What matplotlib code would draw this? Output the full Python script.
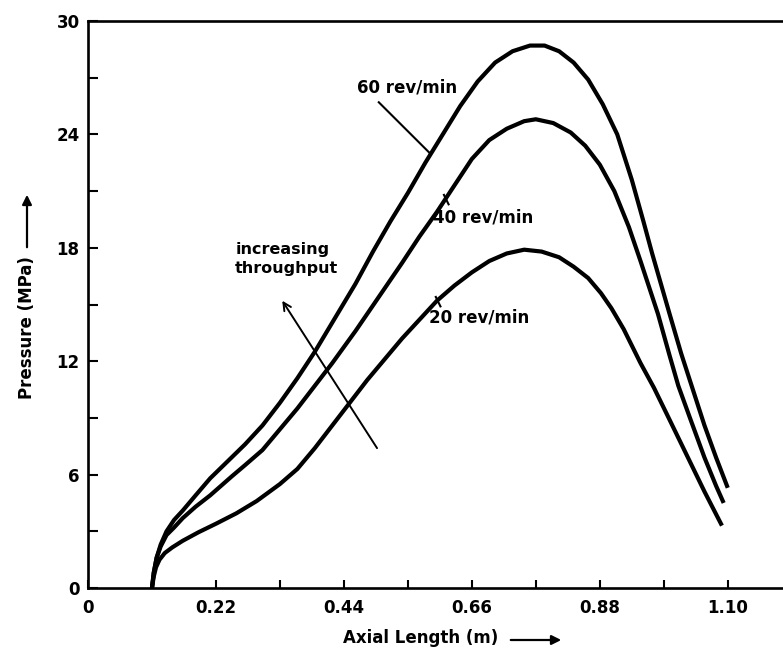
import matplotlib
matplotlib.use('Agg')
import matplotlib.pyplot as plt
from matplotlib.ticker import MultipleLocator, FixedLocator

plt.rcParams['font.family'] = ['DejaVu Sans']

# 60 rev/min
x60 = [0.110, 0.113, 0.118, 0.125, 0.135, 0.148, 0.163, 0.185, 0.21, 0.24, 0.27, 0.30,
       0.33, 0.36, 0.39, 0.425, 0.46, 0.49, 0.52, 0.55, 0.58, 0.61, 0.64, 0.67, 0.70,
       0.73, 0.76, 0.785, 0.81, 0.835, 0.86, 0.885, 0.91, 0.935, 0.955, 0.97, 0.985,
       1.00, 1.02, 1.04, 1.06, 1.08, 1.10]
p60 = [0.0, 0.8, 1.6, 2.3, 3.0, 3.6, 4.1, 4.9, 5.8, 6.7, 7.6, 8.6,
       9.8, 11.1, 12.5, 14.3, 16.1, 17.8, 19.4, 20.9, 22.5, 24.0, 25.5, 26.8, 27.8,
       28.4, 28.7, 28.7, 28.4, 27.8, 26.9, 25.6, 24.0, 21.6, 19.4, 17.7, 16.1,
       14.5, 12.4, 10.5, 8.6, 6.9, 5.3]

# 40 rev/min
x40 = [0.110, 0.113, 0.118, 0.125, 0.135, 0.148, 0.163, 0.185, 0.21, 0.247, 0.27, 0.30,
       0.33, 0.36, 0.39, 0.42, 0.46, 0.50, 0.54, 0.57, 0.60, 0.63, 0.66, 0.69, 0.72,
       0.75, 0.77, 0.80, 0.83, 0.855, 0.88, 0.905, 0.93, 0.95, 0.965, 0.98, 1.00,
       1.015, 1.035, 1.06, 1.08, 1.093]
p40 = [0.0, 0.8, 1.6, 2.2, 2.8, 3.2, 3.7, 4.3, 4.9, 5.9, 6.5, 7.3,
       8.4, 9.5, 10.7, 11.9, 13.6, 15.4, 17.2, 18.6, 19.9, 21.3, 22.7, 23.7, 24.3,
       24.7, 24.8, 24.6, 24.1, 23.4, 22.4, 21.0, 19.1, 17.3, 15.9, 14.5, 12.3,
       10.7, 9.0, 6.9, 5.4, 4.5]

# 20 rev/min
x20 = [0.110, 0.113, 0.117, 0.123, 0.132, 0.145, 0.163, 0.19, 0.22, 0.255, 0.29, 0.33,
       0.36, 0.39, 0.42, 0.45, 0.48, 0.51, 0.54, 0.57, 0.60, 0.63, 0.66, 0.69, 0.72,
       0.75, 0.78, 0.81, 0.835, 0.86, 0.882, 0.90, 0.921, 0.95, 0.973, 1.00, 1.03,
       1.06, 1.09]
p20 = [0.0, 0.6, 1.1, 1.5, 1.85, 2.15, 2.5, 2.95, 3.4, 3.95, 4.6, 5.5,
       6.3, 7.4, 8.6, 9.8, 11.0, 12.1, 13.2, 14.2, 15.2, 16.0, 16.7, 17.3, 17.7,
       17.9, 17.8, 17.5, 17.0, 16.4, 15.6, 14.8, 13.7, 11.9, 10.6, 8.9, 7.0,
       5.1, 3.3]

x_ticks = [0, 0.22, 0.44, 0.66, 0.88, 1.10]
x_ticklabels = ['0', '0.22', '0.44', '0.66', '0.88', '1.10']
x_minor = [0.33, 0.55, 0.77, 0.99]

W, H = 783, 654
fig = plt.figure(figsize=(W / 100, H / 100), dpi=100)
ax = fig.add_axes([88 / W, 1 - 588 / H, (W - 88) / W, (588 - 21) / H])

for xs, ys in [(x60, p60), (x40, p40), (x20, p20)]:
    ax.plot(xs, ys, color='black', lw=3.0, solid_capstyle='butt', solid_joinstyle='round')

ax.set_xlim(0, 1.195)
ax.set_ylim(0, 30)
ax.spines['right'].set_visible(False)
for s in ['left', 'bottom', 'top']:
    ax.spines[s].set_linewidth(1.9)

ax.xaxis.set_major_locator(FixedLocator(x_ticks))
ax.xaxis.set_minor_locator(FixedLocator(x_minor))
ax.yaxis.set_major_locator(MultipleLocator(6))
ax.yaxis.set_minor_locator(MultipleLocator(3))
ax.set_xticklabels(x_ticklabels)
ax.tick_params(which='both', direction='in', width=1.5, top=False, right=False)
ax.tick_params(axis='x', which='both', length=6, pad=8, labelsize=12)
ax.tick_params(axis='y', which='both', length=7, pad=6, labelsize=12)
for lab in ax.get_xticklabels() + ax.get_yticklabels():
    lab.set_fontweight('bold')

# curve labels with leader lines
lab_kw = dict(fontsize=12, fontweight='bold', va='center', ha='left')
ax.text(0.462, 26.5, '60 rev/min', **lab_kw)
ax.plot([0.500, 0.588], [25.7, 23.0], color='black', lw=1.5)
ax.text(0.594, 19.6, '40 rev/min', **lab_kw)
ax.plot([0.612, 0.620], [20.8, 20.3], color='black', lw=1.5)
ax.text(0.586, 14.3, '20 rev/min', **lab_kw)
ax.plot([0.598, 0.606], [15.4, 14.9], color='black', lw=1.5)

ax.text(0.253, 17.4, 'increasing\nthroughput', fontsize=11.5, fontweight='bold',
        ha='left', va='center', linespacing=1.3)
ax.annotate('', xy=(0.334, 15.2), xytext=(0.497, 7.4),
            arrowprops=dict(arrowstyle='->', lw=1.4, color='black',
                            mutation_scale=14, shrinkA=0, shrinkB=0))

# axis titles with arrows
fig.text(343 / W, 1 - 638 / H, 'Axial Length (m)', fontsize=12, fontweight='bold',
         ha='left', va='center')
fig.add_artist(matplotlib.patches.FancyArrowPatch(
    (508 / W, 1 - 640 / H), (564 / W, 1 - 640 / H), transform=fig.transFigure,
    arrowstyle='-|>', mutation_scale=14, lw=1.6, color='black'))
fig.text(27 / W, 1 - 328 / H, 'Pressure (MPa)', fontsize=12, fontweight='bold',
         rotation=90, ha='center', va='center')
fig.add_artist(matplotlib.patches.FancyArrowPatch(
    (27 / W, 1 - 250 / H), (27 / W, 1 - 192 / H), transform=fig.transFigure,
    arrowstyle='-|>', mutation_scale=14, lw=1.6, color='black'))

fig.savefig('out.png', dpi=100, facecolor='white')
